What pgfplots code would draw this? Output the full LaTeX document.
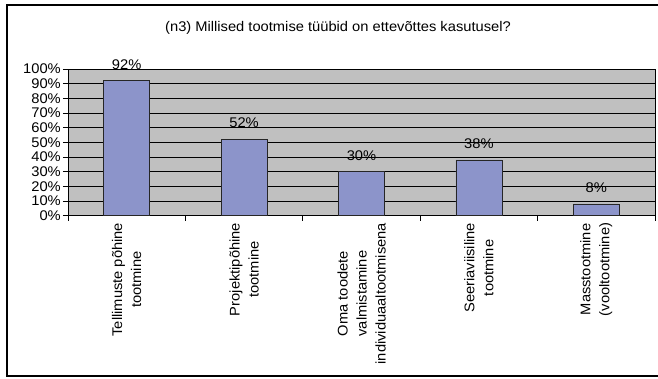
\documentclass[border=0pt]{standalone}
\usepackage{fontspec}
\setmainfont{Liberation Sans}[FakeStretch=1.05]
\usepackage{pgfplots}
\pgfplotsset{compat=1.18}
\definecolor{plotgray}{RGB}{192,192,192}
\definecolor{barblue}{RGB}{140,148,202}
\newcommand{\chartfont}{\fontsize{14bp}{19bp}\selectfont}
\begin{document}
\chartfont
\begin{tikzpicture}[x=1bp,y=1bp]
\useasboundingbox (0,0) rectangle (658,378);
\draw[line width=1.3bp] (7,2) rectangle (665,373);
\node[font=\chartfont] at (338,350.5) {(n3) Millised tootmise tüübid on ettevõttes kasutusel?};
\begin{axis}[
  at={(68bp,162.3bp)}, anchor=south west,
  scale only axis, width=587bp, height=146.7bp,
  xmin=-0.5, xmax=4.5, ymin=0, ymax=100,
  axis background/.style={fill=plotgray},
  axis line style={line width=0.8bp, black},
  ytick={0,10,...,100},
  /pgf/number format/assume math mode=true,
  yticklabel={\pgfmathprintnumber{\tick}\%},
  yticklabel style={inner sep=2bp, font=\chartfont},
  ymajorgrids, grid style={black, line width=0.8bp},
  tick align=outside, major tick length=5bp, minor tick length=5bp,
  tick style={black, line width=0.8bp},
  xtick={0,1,2,3,4},
  x tick style={draw=none},
  minor xtick={-0.5,0.5,1.5,2.5,3.5,4.5},
  minor x tick style={draw=black, line width=0.8bp},
  xticklabels={{Tellimuste põhine\\tootmine},{Projektipõhine\\tootmine},{Oma toodete\\valmistamine\\individuaaltootmisena},{Seeriaviisiline\\tootmine},{Masstootmine\\(vooltootmine)}},
  xticklabel style={rotate=90, anchor=east, align=center, inner sep=0bp, xshift=-2bp, font=\chartfont},
  xtick pos=bottom, ytick pos=left,
  ybar, bar width=46bp,
  nodes near coords={\pgfmathprintnumber{\pgfplotspointmeta}\%},
  nodes near coords style={anchor=south, inner sep=0bp, yshift=11bp, font=\chartfont},
]
\addplot[fill=barblue, draw=black!85, line width=0.8bp] coordinates {(0,92) (1,52) (2,30) (3,38) (4,8)};
\end{axis}
\end{tikzpicture}
\end{document}
